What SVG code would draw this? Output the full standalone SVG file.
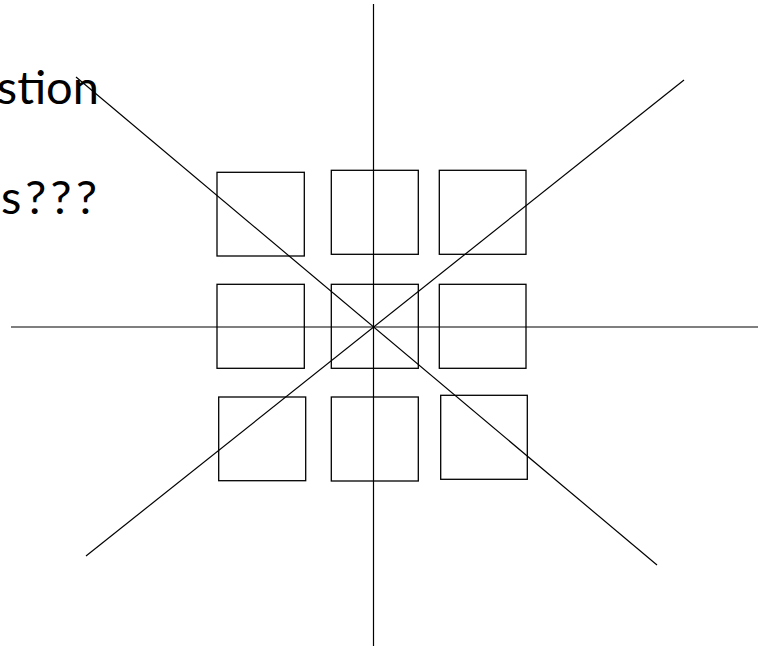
<svg xmlns="http://www.w3.org/2000/svg" width="758" height="646" viewBox="0 0 758 646">
<style>
.t{font-family:Lato,"Open Sans",sans-serif;font-size:47px;fill:#000}
.sq{fill:none;stroke:#000;stroke-width:1.3}
.ln{stroke:#000;stroke-width:1.2;fill:none}
</style>
<rect width="758" height="646" fill="#fff"/>
<g id="text">
<text class="t" x="99" y="104" text-anchor="end">stion</text>
<text class="t" x="1" y="214" textLength="96" lengthAdjust="spacing">s???</text>
</g>
<g id="connectors">
<line class="ln" x1="373.5" y1="4" x2="373.5" y2="646"/>
<line class="ln" x1="11" y1="327" x2="758" y2="327"/>
<line class="ln" x1="76" y1="77" x2="657" y2="565"/>
<line class="ln" x1="684" y1="80" x2="86" y2="556"/>
</g>
<g id="n11"><rect class="sq" x="217" y="172.3" width="87.3" height="83.7"/></g>
<g id="n12"><rect class="sq" x="331.3" y="170.3" width="87" height="84"/></g>
<g id="n13"><rect class="sq" x="439.3" y="170.3" width="86.7" height="84"/></g>
<g id="n21"><rect class="sq" x="217" y="284.3" width="87.3" height="84"/></g>
<g id="n22"><rect class="sq" x="331.3" y="284.3" width="87" height="84"/></g>
<g id="n23"><rect class="sq" x="439.3" y="284.3" width="86.7" height="84"/></g>
<g id="n31"><rect class="sq" x="218.7" y="397" width="87" height="83.7"/></g>
<g id="n32"><rect class="sq" x="331.3" y="397" width="87" height="84"/></g>
<g id="n33"><rect class="sq" x="440.7" y="395.3" width="86.6" height="84"/></g>
</svg>
